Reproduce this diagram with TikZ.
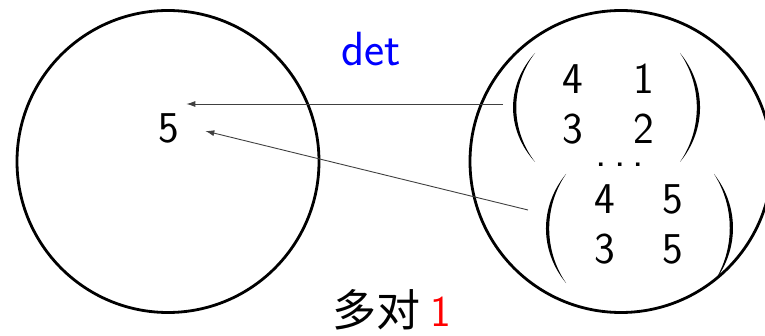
\documentclass[tikz,border=0pt]{standalone}
\usepackage{fontspec}
\newfontfamily\cjk{Noto Sans CJK SC}
\usetikzlibrary{arrows.meta}
\newcommand\myparen[5]{%
  \fill (#1,#2) .. controls (#4,{#2+0.3*(#3-#2)}) and (#4,{#3-0.3*(#3-#2)}) .. (#1,#3)
        .. controls (#5,{#3-0.3*(#3-#2)}) and (#5,{#2+0.3*(#3-#2)}) .. (#1,#2) -- cycle;}
\begin{document}
\begin{tikzpicture}[x=0.5pt,y=-0.5pt,
  ring/.style={draw, circle, line width=1.4pt, minimum size=151pt, inner sep=0pt},
  txt/.style={font=\sffamily\fontsize{22}{25}\selectfont, inner sep=3.3pt},
  arr/.style={-{Latex[length=4.5pt,width=3pt]}, line width=0.45pt, black!75}
]
\useasboundingbox (0,0) rectangle (765,336);
\node[ring] (L) at (168,161.5) {};
\node[ring] (R) at (621,161.5) {};
\node[txt] (five) at (169,128) {5};
\node[txt, text=blue, font=\sffamily\fontsize{24}{28}\selectfont] (det) at (371,49) {det};
\node[txt] (m1) at (608.5,108.5) {\begin{tabular}{@{}c@{\hspace{25pt}}c@{}}4&1\\3&2\end{tabular}};
\node[txt] (m2) at (639,228.5) {\begin{tabular}{@{}c@{\hspace{24pt}}c@{}}4&5\\3&5\end{tabular}};
\node[txt] (dots) at (620,165) {.\hspace{3.6pt}.\hspace{3.6pt}.};
\node[txt] (bottom) at (392,310) {\cjk 多对 \textcolor{red}{\sffamily 1}};
% parentheses
\myparen{535}{53}{162}{505.7}{510.0}
\myparen{680}{53}{162}{706.7}{702.4}
\myparen{566}{174}{283}{539.3}{543.6}
\myparen{714}{174}{282}{739.3}{735.0}
% arrows
\coordinate (s1) at (503,104);
\coordinate (s2) at (528,210);
\draw[arr] (s1) -- (s1 -| five.north east);
\draw[arr] (s2) -- ([xshift=9.5pt,yshift=-1.5pt]five.east);
\end{tikzpicture}
\end{document}
